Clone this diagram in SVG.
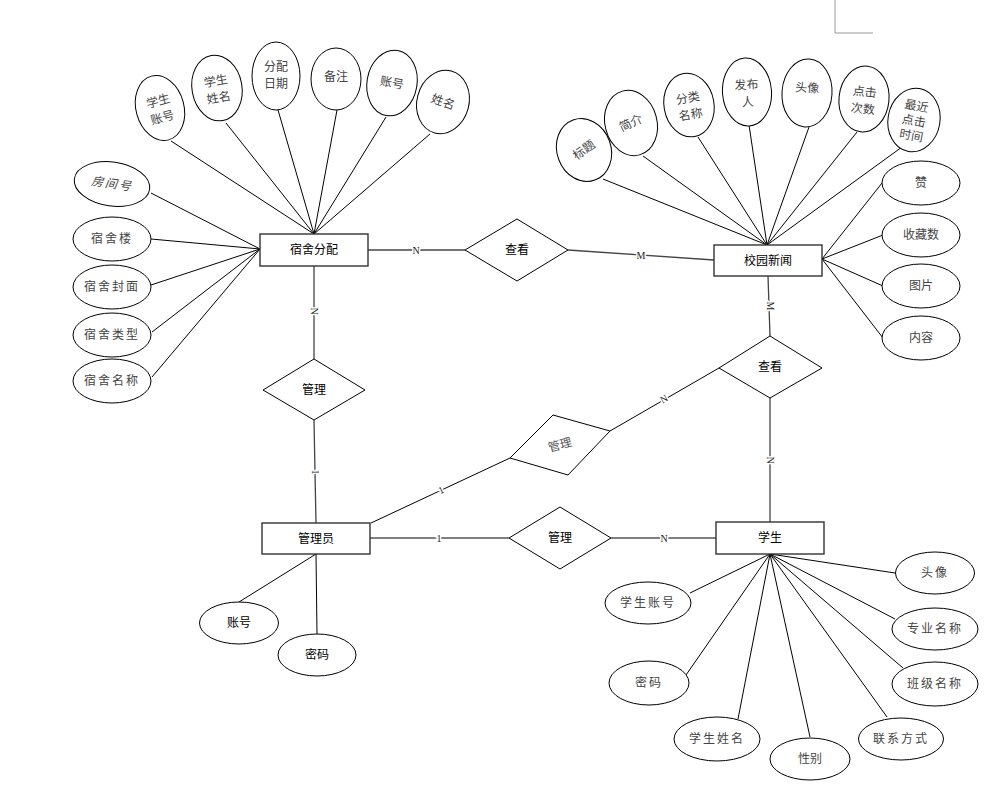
<svg xmlns="http://www.w3.org/2000/svg" width="999" height="792" viewBox="0 0 999 792">
<style>
.bg{fill:#fff}
.conn line{stroke:#000;stroke-width:1}
.conn line.g{stroke:#444;stroke-width:1.3}
.attr ellipse{fill:#fff;stroke:#000;stroke-width:1}
.attr text{font-family:"Noto Sans CJK SC","Liberation Sans",sans-serif;font-size:12px;fill:#444;text-anchor:middle}
.ent rect{fill:#fff;stroke:#333;stroke-width:1.4}
.ent text{font-family:"Noto Sans CJK SC","Liberation Sans",sans-serif;font-size:12px;fill:#000;text-anchor:middle}
.rel polygon{fill:#fff;stroke:#000;stroke-width:1}
.rel text{font-family:"Noto Sans CJK SC","Liberation Sans",sans-serif;font-size:12px;fill:#000;text-anchor:middle}
.lbl{font-family:"Liberation Serif",serif;font-size:10px;fill:#222;text-anchor:middle;stroke:#fff;stroke-width:3;paint-order:stroke}
.sp{letter-spacing:2px}
</style>
<rect class="bg" x="0" y="0" width="999" height="792"/>
<path d="M835 0 V33 H873" fill="none" stroke="#999" stroke-width="1"/>

<g id="connectors" class="conn">
  <!-- 宿舍分配 attributes -->
  <line x1="171" y1="141" x2="314" y2="234"/>
  <line x1="226" y1="123" x2="314" y2="234"/>
  <line x1="278" y1="110" x2="314" y2="234"/>
  <line x1="337" y1="110" x2="314" y2="234"/>
  <line x1="386" y1="117" x2="314" y2="234"/>
  <line x1="430" y1="134" x2="314" y2="234"/>
  <line x1="151" y1="193" x2="260" y2="249"/>
  <line x1="151" y1="239" x2="260" y2="249"/>
  <line x1="151" y1="285" x2="260" y2="249"/>
  <line x1="152" y1="332" x2="260" y2="249"/>
  <line x1="152" y1="377" x2="260" y2="249"/>
  <!-- 校园新闻 attributes -->
  <line x1="603" y1="179" x2="767" y2="245"/>
  <line x1="643" y1="156" x2="767" y2="245"/>
  <line x1="698" y1="137" x2="767" y2="245"/>
  <line x1="749" y1="125" x2="767" y2="245"/>
  <line x1="809" y1="127" x2="767" y2="245"/>
  <line x1="857" y1="132" x2="767" y2="245"/>
  <line x1="902" y1="147" x2="767" y2="245"/>
  <line x1="882" y1="183" x2="822" y2="259"/>
  <line x1="883" y1="235" x2="822" y2="259"/>
  <line x1="883" y1="286" x2="822" y2="259"/>
  <line x1="883" y1="338" x2="822" y2="259"/>
  <!-- 学生 attributes -->
  <line x1="895" y1="573" x2="770" y2="554"/>
  <line x1="690" y1="593" x2="770" y2="554"/>
  <line x1="895" y1="619" x2="770" y2="554"/>
  <line x1="686" y1="675" x2="770" y2="554"/>
  <line x1="903" y1="668" x2="770" y2="554"/>
  <line x1="738" y1="719" x2="770" y2="554"/>
  <line x1="810" y1="737" x2="770" y2="554"/>
  <line x1="887" y1="717" x2="770" y2="554"/>
  <!-- 管理员 attributes -->
  <line x1="239" y1="602" x2="316" y2="554"/>
  <line x1="317" y1="634" x2="316" y2="554"/>
  <!-- relationships -->
  <line class="g" x1="368" y1="250" x2="465" y2="250"/>
  <line class="g" x1="568" y1="250" x2="714" y2="260"/>
  <line class="g" x1="314" y1="266" x2="314" y2="359"/>
  <line class="g" x1="314" y1="420" x2="316" y2="523"/>
  <line x1="371" y1="523" x2="510" y2="458"/>
  <line x1="610" y1="431" x2="719" y2="368"/>
  <line class="g" x1="768" y1="276" x2="770" y2="336"/>
  <line class="g" x1="770" y1="398" x2="770" y2="522"/>
  <line x1="370" y1="538" x2="509" y2="538"/>
  <line x1="611" y1="538" x2="716" y2="538"/>
  <!-- cardinality labels -->
  <text class="lbl" x="416" y="254">N</text>
  <text class="lbl" x="641" y="259">M</text>
  <text class="lbl" transform="translate(314,311) rotate(90)" y="3.5">N</text>
  <text class="lbl" transform="translate(315,472) rotate(90)" y="3.5">1</text>
  <text class="lbl" transform="translate(441,490) rotate(-25)" y="3.5">1</text>
  <text class="lbl" transform="translate(664,399) rotate(-30)" y="3.5">N</text>
  <text class="lbl" transform="translate(770,306) rotate(90)" y="3.5">M</text>
  <text class="lbl" transform="translate(770,460) rotate(90)" y="3.5">N</text>
  <text class="lbl" x="439" y="542">1</text>
  <text class="lbl" x="664" y="542">N</text>
</g>

<!-- entities -->
<g id="sushefenpei" class="ent"><rect x="260" y="234" width="108" height="32"/><text x="314" y="254">宿舍分配</text></g>
<g id="xiaoyuanxinwen" class="ent"><rect x="714" y="245" width="108" height="31"/><text x="768" y="265">校园新闻</text></g>
<g id="guanliyuan" class="ent"><rect x="262" y="523" width="108" height="31"/><text x="316" y="543">管理员</text></g>
<g id="xuesheng" class="ent"><rect x="716" y="522" width="108" height="32"/><text x="770" y="542">学生</text></g>

<!-- relationships -->
<g id="rel-chakan1" class="rel"><polygon points="465,250 517,219 568,250 517,281"/><text x="517" y="254">查看</text></g>
<g id="rel-guanli1" class="rel"><polygon points="263,390 314,359 365,390 314,420"/><text x="314" y="394">管理</text></g>
<g id="rel-guanli2" class="rel"><polygon points="510,458 553,415 610,431 568,475"/><text transform="translate(560,445) rotate(-15)" y="4" style="fill:#555">管理</text></g>
<g id="rel-chakan2" class="rel"><polygon points="719,368 770,336 822,368 770,398"/><text x="770" y="371">查看</text></g>
<g id="rel-guanli3" class="rel"><polygon points="509,538 560,507 611,538 560,569"/><text x="560" y="542">管理</text></g>

<!-- 宿舍分配 attributes -->
<g id="a-xszh" class="attr" transform="translate(160,108) rotate(-15)"><ellipse rx="24" ry="33"/><text y="-3">学生</text><text y="14">账号</text></g>
<g id="a-xsxm" class="attr" transform="translate(217,88) rotate(-10)"><ellipse rx="25" ry="33"/><text y="-3">学生</text><text y="14">姓名</text></g>
<g id="a-fprq" class="attr" transform="translate(276,76)"><ellipse rx="24" ry="34"/><text y="-5">分配</text><text y="12">日期</text></g>
<g id="a-bz" class="attr" transform="translate(336,79)"><ellipse rx="25" ry="31"/><text y="2">备注</text></g>
<g id="a-zh" class="attr" transform="translate(392,83) rotate(10)"><ellipse rx="25" ry="33"/><text y="4">账号</text></g>
<g id="a-xm" class="attr" transform="translate(443,102) rotate(15)"><ellipse rx="26" ry="32"/><text y="4" transform="rotate(5)">姓名</text></g>
<g id="a-fjh" class="attr" transform="translate(112,184) rotate(8)"><ellipse rx="38" ry="22"/><text y="4" class="sp" style="font-style:italic">房间号</text></g>
<g id="a-ssl" class="attr" transform="translate(112,239)"><ellipse rx="39" ry="22"/><text y="4" class="sp">宿舍楼</text></g>
<g id="a-ssfm" class="attr" transform="translate(112,287)"><ellipse rx="39" ry="22"/><text y="4" class="sp">宿舍封面</text></g>
<g id="a-sslx" class="attr" transform="translate(112,335)"><ellipse rx="39" ry="22"/><text y="4" class="sp">宿舍类型</text></g>
<g id="a-ssmc" class="attr" transform="translate(112,381)"><ellipse rx="39" ry="22"/><text y="4" class="sp">宿舍名称</text></g>

<!-- 校园新闻 attributes -->
<g id="a-bt" class="attr" transform="translate(584,150) rotate(-20)"><ellipse rx="27" ry="32"/><text y="4" transform="rotate(-15)">标题</text></g>
<g id="a-jj" class="attr" transform="translate(631,123) rotate(-15)"><ellipse rx="26" ry="33"/><text y="4" transform="rotate(-10)">简介</text></g>
<g id="a-flmc" class="attr" transform="translate(689,105) rotate(-10)"><ellipse rx="25" ry="32"/><text y="-3">分类</text><text y="14">名称</text></g>
<g id="a-fbr" class="attr" transform="translate(747,92) rotate(-4)"><ellipse rx="24.5" ry="34"/><text y="-3">发布</text><text y="14">人</text></g>
<g id="a-tx1" class="attr" transform="translate(807,93) rotate(4)"><ellipse rx="25" ry="34"/><text y="-1">头像</text></g>
<g id="a-djcs" class="attr" transform="translate(864,99) rotate(6)"><ellipse rx="25" ry="33"/><text y="-3">点击</text><text y="14">次数</text></g>
<g id="a-zjdjsj" class="attr" transform="translate(914,120) rotate(10)"><ellipse rx="26" ry="32"/><text y="-10">最近</text><text y="5">点击</text><text y="20">时间</text></g>
<g id="a-zan" class="attr" transform="translate(921,183)"><ellipse rx="39" ry="22"/><text y="4">赞</text></g>
<g id="a-scs" class="attr" transform="translate(921,235)"><ellipse rx="39" ry="22"/><text y="4">收藏数</text></g>
<g id="a-tp" class="attr" transform="translate(921,286)"><ellipse rx="39" ry="22"/><text y="4">图片</text></g>
<g id="a-nr" class="attr" transform="translate(921,338)"><ellipse rx="39" ry="22"/><text y="4">内容</text></g>

<!-- 学生 attributes -->
<g id="a-tx2" class="attr" transform="translate(935,573)"><ellipse rx="39.5" ry="21"/><text y="4" class="sp">头像</text></g>
<g id="a-xszh2" class="attr" transform="translate(648,603)"><ellipse rx="43" ry="21"/><text y="4" class="sp">学生账号</text></g>
<g id="a-zymc" class="attr" transform="translate(935,629)"><ellipse rx="43" ry="21"/><text y="4" class="sp">专业名称</text></g>
<g id="a-mm2" class="attr" transform="translate(649,683)"><ellipse rx="40" ry="22"/><text y="4" class="sp">密码</text></g>
<g id="a-bjmc" class="attr" transform="translate(935,684)"><ellipse rx="43" ry="22"/><text y="4" class="sp">班级名称</text></g>
<g id="a-xsxm2" class="attr" transform="translate(717,739)"><ellipse rx="43" ry="22"/><text y="4" class="sp">学生姓名</text></g>
<g id="a-xb" class="attr" transform="translate(810,759)"><ellipse rx="40" ry="21"/><text y="4">性别</text></g>
<g id="a-lxfs" class="attr" transform="translate(901,739)"><ellipse rx="42.5" ry="21"/><text y="4" class="sp">联系方式</text></g>

<!-- 管理员 attributes -->
<g id="a-zh3" class="attr" transform="translate(239,623)"><ellipse rx="39.5" ry="21"/><text y="4" style="fill:#000">账号</text></g>
<g id="a-mm3" class="attr" transform="translate(317,655)"><ellipse rx="39" ry="21"/><text y="4" style="fill:#000">密码</text></g>
</svg>
